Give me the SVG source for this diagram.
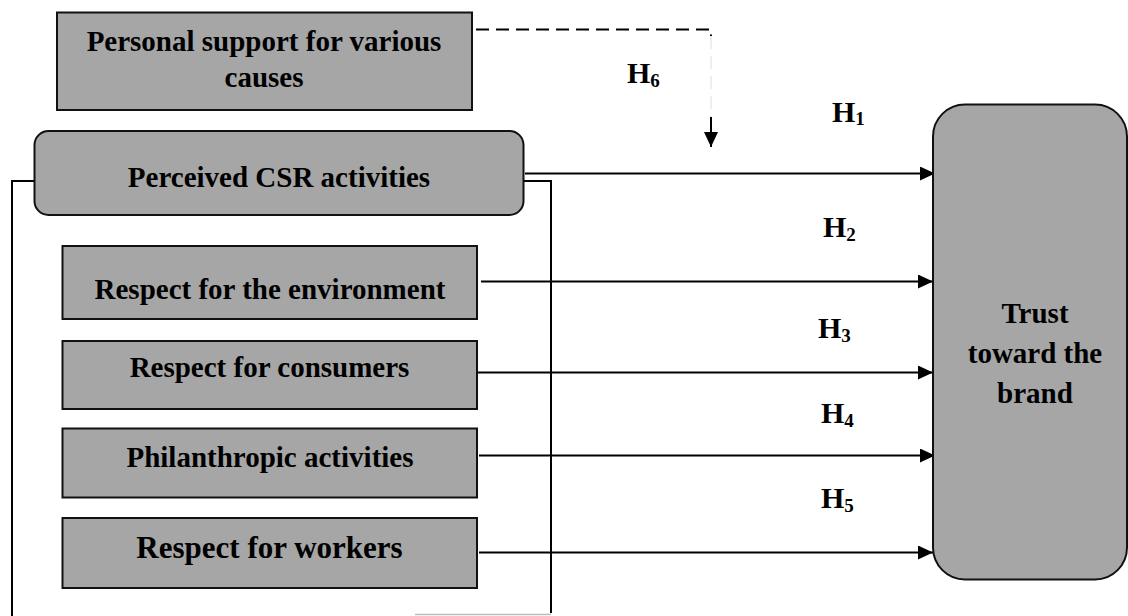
<svg xmlns="http://www.w3.org/2000/svg" width="1128" height="616" viewBox="0 0 1128 616">
<defs>
<style>
.box{fill:#a6a6a6;stroke:#111;stroke-width:2}
.t{font-family:"Liberation Serif","Times New Roman",serif;font-weight:bold;font-size:29px;fill:#000;text-anchor:middle}
.h{font-family:"Liberation Serif","Times New Roman",serif;font-weight:bold;font-size:30px;fill:#000}
.sub{font-size:19px}
.ln{stroke:#000;stroke-width:2;fill:none}
</style>
<marker id="ah" viewBox="0 0 15 14" refX="15" refY="7" markerWidth="15" markerHeight="14" markerUnits="userSpaceOnUse" orient="auto">
<path d="M0,0 L15,7 L0,14 Z" fill="#000"/>
</marker>
</defs>
<rect width="1128" height="616" fill="#fff"/>

<g id="connectors">
<!-- bracket -->
<polyline class="ln" points="34,181 12,181 12,616"/>
<polyline class="ln" points="523,181 551,181 551,613"/>
<line x1="415" y1="614.5" x2="551" y2="614.5" stroke="#bbb" stroke-width="1.5"/>
<!-- moderator dashed -->
<polyline class="ln" stroke-width="1.8" stroke-dasharray="13 7" points="476,29.5 711,29.5 711,36"/>
<line x1="711" y1="36" x2="711" y2="117" stroke="#ddd" stroke-width="1" stroke-dasharray="13 7"/>
<line x1="711" y1="117" x2="711" y2="147" class="ln" marker-end="url(#ah)"/>
<!-- H1..H5 -->
<line class="ln" x1="525" y1="173.5" x2="935" y2="173.5" marker-end="url(#ah)"/>
<line class="ln" x1="481" y1="281.5" x2="933" y2="281.5" marker-end="url(#ah)"/>
<line class="ln" x1="477" y1="372.5" x2="933" y2="372.5" marker-end="url(#ah)"/>
<line class="ln" x1="479" y1="455.5" x2="935" y2="455.5" marker-end="url(#ah)"/>
<line class="ln" x1="479" y1="552.5" x2="933" y2="552.5" marker-end="url(#ah)"/>
</g>

<g id="labels">
<text class="h" x="627" y="83">H<tspan class="sub" dy="4">6</tspan></text>
<text class="h" x="832" y="122">H<tspan class="sub" dy="3">1</tspan></text>
<text class="h" x="823" y="237">H<tspan class="sub" dy="4">2</tspan></text>
<text class="h" x="818" y="338">H<tspan class="sub" dy="4">3</tspan></text>
<text class="h" x="821" y="423">H<tspan class="sub" dy="4">4</tspan></text>
<text class="h" x="821" y="508">H<tspan class="sub" dy="4">5</tspan></text>
</g>

<g id="personal-support">
<rect class="box" x="57" y="12.5" width="415" height="97.5"/>
<text class="t" x="264" y="51">Personal support for various</text>
<text class="t" x="264" y="87">causes</text>
</g>

<g id="perceived-csr">
<rect class="box" x="34.5" y="131" width="489" height="84" rx="14" ry="14"/>
<text class="t" x="279" y="186.5">Perceived CSR activities</text>
</g>

<g id="environment">
<rect class="box" x="62.5" y="246" width="414.5" height="73"/>
<text class="t" x="270" y="298.5">Respect for the environment</text>
</g>

<g id="consumers">
<rect class="box" x="62.5" y="341" width="414.5" height="68"/>
<text class="t" x="269.5" y="376.5">Respect for consumers</text>
</g>

<g id="philanthropic">
<rect class="box" x="62.5" y="428.5" width="414.5" height="69"/>
<text class="t" x="270" y="466.5">Philanthropic activities</text>
</g>

<g id="workers">
<rect class="box" x="62.5" y="518" width="414.5" height="70"/>
<text class="t" x="269.5" y="557.5" style="font-size:31px">Respect for workers</text>
</g>

<g id="trust">
<rect class="box" x="933" y="104.5" width="194" height="475" rx="32" ry="32"/>
<text class="t" x="1035" y="323">Trust</text>
<text class="t" x="1035" y="363">toward the</text>
<text class="t" x="1035" y="403">brand</text>
</g>
</svg>
